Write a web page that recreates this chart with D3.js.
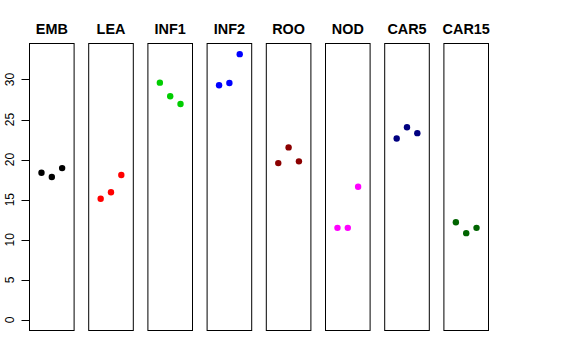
<!DOCTYPE html>
<html><head><meta charset="utf-8">
<script src="https://cdn.jsdelivr.net/npm/d3@7"></script>
<style>body{margin:0;background:#fff}</style>
</head><body>
<svg id="c" width="576" height="360"></svg>
<script>
const categories = ["EMB","LEA","INF1","INF2","ROO","NOD","CAR5","CAR15"];
const colors = ["#000000","#FF0000","#00CD00","#0000FF","#8B0000","#FF00FF","#000080","#006400"];
const rep1 = [18.36, 15.12, 29.60, 29.27, 19.56, 11.48, 22.64, 12.19];
const rep2 = [17.82, 15.92, 27.90, 29.55, 21.52, 11.48, 24.04, 10.82];
const rep3 = [18.94, 18.07, 26.94, 33.16, 19.78, 16.62, 23.30, 11.48];
const yTicks = [0,5,10,15,20,25,30];

(function(){
const svg = d3.select("#c");
const plotTop = 43.5, plotBottom = 330.5;
const yMax = d3.max([...rep1,...rep2,...rep3]);
const ext = yMax*0.04;
const y = d3.scaleLinear().domain([0-ext, yMax+ext]).range([plotBottom, plotTop]);
const pw = 44.6, step = 59.2;
const px = (i)=> 29.5 + step*i;
const x = d3.scaleLinear().domain([-0.16, 4.16]).range([0, pw]);

categories.forEach((cat,i)=>{
  const g = svg.append("g").attr("transform",`translate(${px(i)},0)`);
  g.append("rect").attr("x",0).attr("y",plotTop).attr("width",pw).attr("height",plotBottom-plotTop)
    .attr("fill","none").attr("stroke","#000").attr("stroke-width",1);
  g.append("text").attr("x",pw/2).attr("y",34).attr("text-anchor","middle")
    .attr("font-family","Liberation Sans, Arial, sans-serif").attr("font-weight","bold")
    .attr("font-size",14.4).text(cat);
  const vals = [rep1[i], rep2[i], rep3[i]];
  g.selectAll("circle").data(vals).join("circle")
    .attr("cx",(d,j)=>x(j+1)).attr("cy",d=>y(d)).attr("r",3.2).attr("fill",colors[i]);
});

const ax = svg.append("g").attr("transform","translate(29.5,0)");
ax.append("line").attr("x1",0).attr("x2",0).attr("y1",y(0)).attr("y2",y(30)).attr("stroke","#000");
yTicks.forEach(t=>{
  ax.append("line").attr("x1",-8).attr("x2",0).attr("y1",Math.round(y(t))+0.5).attr("y2",Math.round(y(t))+0.5).attr("stroke","#000");
  ax.append("text").attr("transform",`translate(-16,${y(t)}) rotate(-90)`)
    .attr("text-anchor","middle").attr("font-family","Liberation Sans, Arial, sans-serif")
    .attr("font-size",12).attr("fill","#000").text(t);
});
})();
</script>
</body></html>
